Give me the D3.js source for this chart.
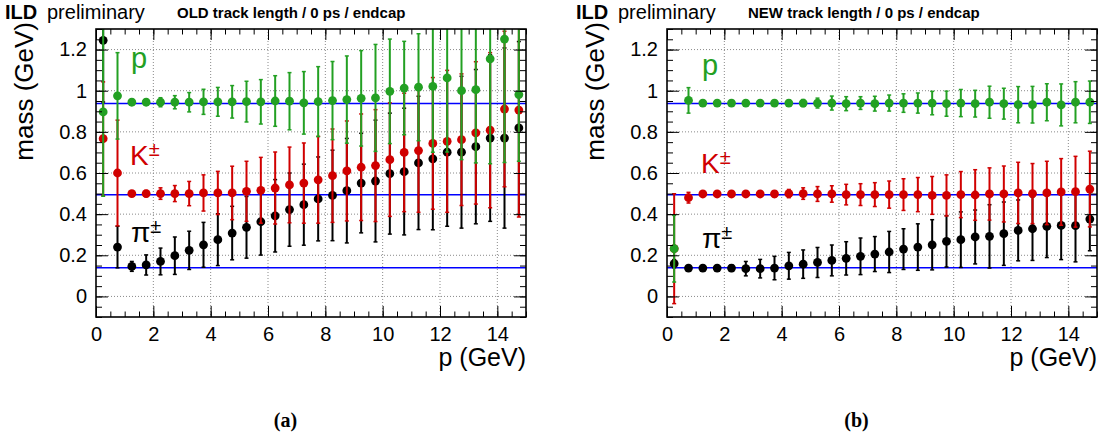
<!DOCTYPE html>
<head>
<meta charset="utf-8">
<title>ILD mass vs momentum</title>
<script type="text/javascript" src="https://d3js.org/d3.v7.min.js"></script>
<style>
body { margin: 0; background: #fff; }
svg text { font-family: "Liberation Sans", Arial, Helvetica, sans-serif; }
svg text.caption { font-family: "Liberation Serif", "Times New Roman", serif; font-weight: bold; font-size: 20px; }
</style>
</head>

<body>
<div id="container"></div>
<script>

// bin centres (GeV)
const pBins = [0.25, 0.75, 1.25, 1.75, 2.25, 2.75, 3.25, 3.75, 4.25, 4.75,
               5.25, 5.75, 6.25, 6.75, 7.25, 7.75, 8.25, 8.75, 9.25, 9.75,
               10.25, 10.75, 11.25, 11.75, 12.25, 12.75, 13.25, 13.75, 14.25, 14.75];

// nominal masses (GeV)
const massP = 0.938, massK = 0.494, massPi = 0.1396;

// tick labels
const xTicks = [0, 2, 4, 6, 8, 10, 12, 14];
const yTicks = [0, 0.2, 0.4, 0.6, 0.8, 1, 1.2];

// (a) OLD track length
const pOld = [0.897, 0.975, 0.944, 0.944, 0.944, 0.944, 0.944, 0.946, 0.946, 0.946,
              0.947, 0.946, 0.950, 0.949, 0.941, 0.947, 0.952, 0.957, 0.963, 0.965,
              0.997, 1.013, 1.017, 1.021, 1.062, 1.000, 1.005, 1.155, 1.251, 0.981];
const pOldErr = [0.41, 0.21, 0.008, 0.012, 0.022, 0.032, 0.047, 0.061, 0.07, 0.079,
                 0.099, 0.108, 0.123, 0.139, 0.152, 0.17, 0.19, 0.212, 0.232, 0.26,
                 0.254, 0.227, 0.26, 0.32, 0.36, 0.335, 0.356, 0.51, 0.6, 0.324];
const kOld = [0.767, 0.600, 0.500, 0.500, 0.500, 0.500, 0.500, 0.503, 0.503, 0.503,
              0.511, 0.516, 0.527, 0.542, 0.551, 0.567, 0.587, 0.610, 0.628, 0.636,
              0.665, 0.700, 0.709, 0.744, 0.754, 0.762, 0.795, 0.808, 0.911, 0.906];
const kOldErr = [0.276, 0.257, 0.01, 0.015, 0.028, 0.039, 0.059, 0.088, 0.105, 0.13,
                 0.146, 0.16, 0.175, 0.184, 0.195, 0.211, 0.227, 0.243, 0.259, 0.272,
                 0.276, 0.288, 0.3, 0.32, 0.345, 0.32, 0.346, 0.377, 0.378, 0.52];
const piOld = [1.245, 0.240, 0.146, 0.153, 0.170, 0.198, 0.224, 0.251, 0.276, 0.308,
               0.336, 0.363, 0.392, 0.422, 0.446, 0.474, 0.491, 0.514, 0.551, 0.561,
               0.597, 0.607, 0.649, 0.669, 0.701, 0.701, 0.728, 0.770, 0.770, 0.819];
const piOldErr = [0.3, 0.101, 0.024, 0.049, 0.065, 0.091, 0.093, 0.109, 0.126, 0.13,
                  0.15, 0.162, 0.176, 0.178, 0.197, 0.204, 0.22, 0.254, 0.242, 0.296,
                  0.294, 0.308, 0.324, 0.345, 0.36, 0.369, 0.375, 0.405, 0.438, 0.42];

// (b) NEW track length
const pNew = [0.232, 0.953, 0.940, 0.940, 0.940, 0.940, 0.940, 0.940, 0.940, 0.940,
              0.940, 0.940, 0.937, 0.940, 0.937, 0.940, 0.940, 0.940, 0.940, 0.937,
              0.940, 0.937, 0.944, 0.937, 0.932, 0.932, 0.944, 0.931, 0.944, 0.944];
const pNewErr = [0.162, 0.062, 0.005, 0.006, 0.007, 0.008, 0.01, 0.012, 0.014, 0.017,
                 0.024, 0.034, 0.034, 0.031, 0.036, 0.039, 0.045, 0.049, 0.057, 0.061,
                 0.066, 0.065, 0.078, 0.075, 0.088, 0.089, 0.09, 0.102, 0.1, 0.103];
const kNew = [0.232, 0.480, 0.498, 0.498, 0.498, 0.498, 0.498, 0.498, 0.500, 0.500,
              0.498, 0.498, 0.495, 0.495, 0.495, 0.495, 0.495, 0.495, 0.491, 0.491,
              0.495, 0.493, 0.498, 0.498, 0.503, 0.500, 0.503, 0.508, 0.509, 0.522];
const kNewErr = [0.267, 0.026, 0.005, 0.006, 0.008, 0.01, 0.012, 0.015, 0.02, 0.028,
                 0.036, 0.04, 0.05, 0.053, 0.058, 0.066, 0.077, 0.083, 0.092, 0.1,
                 0.112, 0.123, 0.127, 0.136, 0.149, 0.146, 0.154, 0.162, 0.172, 0.184];
const piNew = [0.159, 0.138, 0.138, 0.138, 0.138, 0.135, 0.135, 0.138, 0.149, 0.157,
               0.165, 0.175, 0.185, 0.195, 0.206, 0.216, 0.230, 0.240, 0.251, 0.268,
               0.276, 0.289, 0.292, 0.305, 0.321, 0.329, 0.341, 0.345, 0.344, 0.376];
const piNewErr = [0.02, 0.006, 0.006, 0.008, 0.016, 0.035, 0.045, 0.057, 0.065, 0.069,
                  0.073, 0.075, 0.081, 0.089, 0.085, 0.1, 0.099, 0.113, 0.122, 0.125,
                  0.135, 0.131, 0.154, 0.154, 0.148, 0.154, 0.152, 0.166, 0.176, 0.154];

const colPi = "#000000", colK = "#d00000", colP = "#23a023", colRef = "#0000ff";

const svg = d3.select("div#container").append("svg")
    .attr("width", 1103).attr("height", 436);

function drawPanel(cfg) {
  const top = 29, bottom = 317;
  const x = d3.scaleLinear().domain([0, 15]).range([cfg.left, cfg.right]);
  const y = d3.scaleLinear().domain([-0.1, 1.3]).range([bottom, top]);
  const g = svg.append("g");

  g.append("clipPath").attr("id", cfg.id + "-clip")
    .append("rect").attr("x", cfg.left).attr("y", top)
    .attr("width", cfg.right - cfg.left).attr("height", bottom - top);

  // dotted grid
  const grid = g.append("g").attr("stroke", "#8a8a8a").attr("stroke-width", 1)
      .attr("stroke-dasharray", "1,2");
  grid.selectAll("line.gx").data(xTicks.filter(d => d > 0)).join("line")
      .attr("x1", d => x(d)).attr("x2", d => x(d)).attr("y1", top).attr("y2", bottom);
  grid.selectAll("line.gy").data(yTicks).join("line")
      .attr("y1", d => y(d)).attr("y2", d => y(d)).attr("x1", cfg.left).attr("x2", cfg.right);

  const plot = g.append("g").attr("clip-path", `url(#${cfg.id}-clip)`);

  // nominal mass lines
  plot.selectAll("line.ref").data([massP, massK, massPi]).join("line")
      .attr("x1", cfg.left).attr("x2", cfg.right)
      .attr("y1", d => y(d)).attr("y2", d => y(d))
      .attr("stroke", colRef).attr("stroke-width", 1.5);

  // graphs: pi, K, p
  for (const s of cfg.series) {
    const pts = pBins.map((b, i) => ({x: b, v: s.values[i], e: s.errors[i]}));
    const sg = plot.append("g").attr("stroke", s.color).attr("fill", s.color);
    sg.selectAll("line.bar").data(pts).join("line")
        .attr("x1", d => x(d.x)).attr("x2", d => x(d.x))
        .attr("y1", d => y(d.v - d.e)).attr("y2", d => y(d.v + d.e))
        .attr("stroke-width", 2);
    sg.selectAll("line.caplo").data(pts).join("line")
        .attr("x1", d => x(d.x) - 2).attr("x2", d => x(d.x) + 2)
        .attr("y1", d => y(d.v - d.e)).attr("y2", d => y(d.v - d.e))
        .attr("stroke-width", 1.5);
    sg.selectAll("line.caphi").data(pts).join("line")
        .attr("x1", d => x(d.x) - 2).attr("x2", d => x(d.x) + 2)
        .attr("y1", d => y(d.v + d.e)).attr("y2", d => y(d.v + d.e))
        .attr("stroke-width", 1.5);
    sg.selectAll("circle").data(pts).join("circle")
        .attr("cx", d => x(d.x)).attr("cy", d => y(d.v)).attr("r", 4.4)
        .attr("stroke", "none");
  }

  // axes with inward ticks on all four sides
  const fmt = d3.format("~g");
  const styleAxis = a => a.call(a => a.select(".domain").remove())
      .call(a => a.selectAll("text").attr("font-size", 20).attr("fill", "#000")
                  .attr("font-family", null))
      .call(a => a.selectAll("line").attr("stroke", "#000"));
  g.append("g").attr("transform", `translate(0,${bottom})`)
      .call(d3.axisBottom(x).tickValues(xTicks).tickSize(-11).tickPadding(10).tickFormat(fmt))
      .call(styleAxis);
  g.append("g").attr("transform", `translate(0,${bottom})`)
      .call(d3.axisBottom(x).tickValues(x.ticks(30)).tickSize(-5.5).tickFormat(""))
      .call(styleAxis);
  g.append("g").attr("transform", `translate(0,${top})`)
      .call(d3.axisTop(x).tickValues(xTicks).tickSize(-11).tickFormat(""))
      .call(styleAxis);
  g.append("g").attr("transform", `translate(0,${top})`)
      .call(d3.axisTop(x).tickValues(x.ticks(30)).tickSize(-5.5).tickFormat(""))
      .call(styleAxis);
  g.append("g").attr("transform", `translate(${cfg.left},0)`)
      .call(d3.axisLeft(y).tickValues(yTicks).tickSize(-12).tickPadding(9).tickFormat(fmt))
      .call(styleAxis);
  g.append("g").attr("transform", `translate(${cfg.left},0)`)
      .call(d3.axisLeft(y).tickValues(y.ticks(28)).tickSize(-6).tickFormat(""))
      .call(styleAxis);
  g.append("g").attr("transform", `translate(${cfg.right},0)`)
      .call(d3.axisRight(y).tickValues(yTicks).tickSize(-12).tickFormat(""))
      .call(styleAxis);
  g.append("g").attr("transform", `translate(${cfg.right},0)`)
      .call(d3.axisRight(y).tickValues(y.ticks(28)).tickSize(-6).tickFormat(""))
      .call(styleAxis);

  g.append("rect").attr("x", cfg.left).attr("y", top)
      .attr("width", cfg.right - cfg.left).attr("height", bottom - top)
      .attr("fill", "none").attr("stroke", "#000").attr("stroke-width", 1.6);

  // axis titles
  g.append("text").attr("transform", `translate(${cfg.left - 63},22) rotate(-90)`)
      .attr("text-anchor", "end").attr("font-size", 26).text("mass (GeV)");
  g.append("text").attr("x", cfg.right).attr("y", 366)
      .attr("text-anchor", "end").attr("font-size", 25).text("p (GeV)");

  // header
  g.append("text").attr("x", cfg.left - 91).attr("y", 18.5)
      .attr("font-size", 20).attr("font-weight", "bold").text("ILD");
  g.append("text").attr("x", cfg.left - 49).attr("y", 18.5)
      .attr("font-size", 20).text("preliminary");
  g.append("text").attr("x", cfg.left + 81).attr("y", 17.5)
      .attr("font-size", 15).attr("font-weight", "bold").text(cfg.title);

  // particle labels
  const lx = cfg.left + 35;
  g.append("text").attr("x", lx).attr("y", cfg.labelY[0])
      .attr("font-size", 29).attr("fill", colP).text("p");
  const tk = g.append("text").attr("x", lx - 1).attr("y", cfg.labelY[1])
      .attr("font-size", 28).attr("fill", colK).text("K");
  tk.append("tspan").attr("dy", -9).attr("font-size", 20).text("±");
  const tp = g.append("text").attr("x", lx).attr("y", cfg.labelY[2])
      .attr("font-size", 28).attr("fill", colPi).text("π");
  tp.append("tspan").attr("dy", -9).attr("font-size", 20).text("±");

  // caption
  svg.append("text").attr("class", "caption")
      .attr("x", cfg.caption[1]).attr("y", 427)
      .attr("text-anchor", "middle")
      .text(cfg.caption[0]);
}

drawPanel({
  id: "old", left: 96, right: 526, title: "OLD track length / 0 ps / endcap",
  labelY: [68, 165, 242], caption: ["(a)", 285.5],
  series: [
    {values: piOld, errors: piOldErr, color: colPi},
    {values: kOld, errors: kOldErr, color: colK},
    {values: pOld, errors: pOldErr, color: colP}
  ]
});

drawPanel({
  id: "new", left: 667, right: 1097, title: "NEW track length / 0 ps / endcap",
  labelY: [75, 173, 248], caption: ["(b)", 856.5],
  series: [
    {values: piNew, errors: piNewErr, color: colPi},
    {values: kNew, errors: kNewErr, color: colK},
    {values: pNew, errors: pNewErr, color: colP}
  ]
});

</script>
</body>
